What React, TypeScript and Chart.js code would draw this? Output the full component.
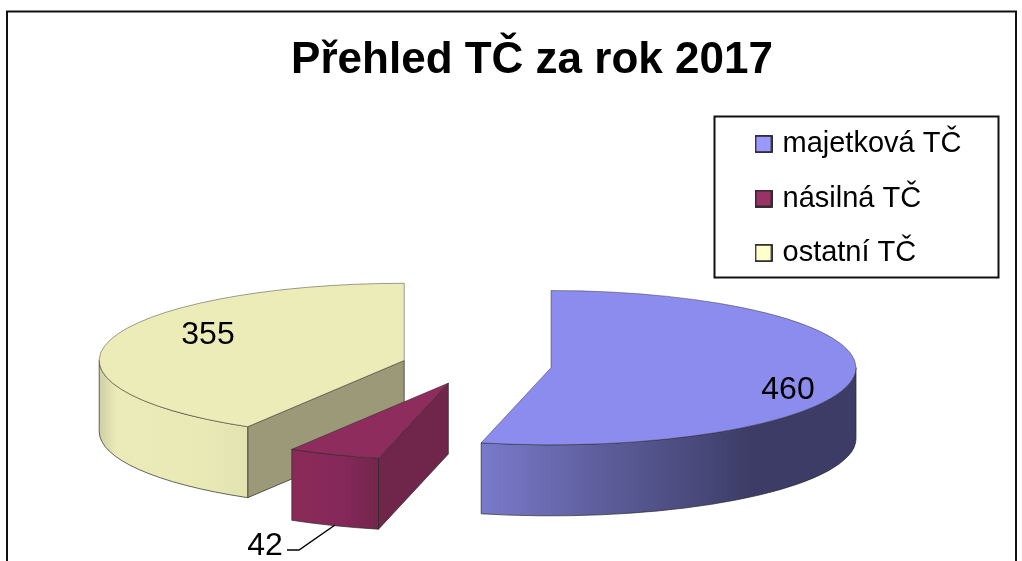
import React, { useEffect, useRef } from "react";
import { Chart, registerables } from "chart.js";

Chart.register(...registerables);

const categories = ["majetková TČ", "násilná TČ", "ostatní TČ"];
const values = [460, 42, 355];
const titleText = "Přehled TČ za rok 2017";

const topColors = ["#8C8CEE", "#8E2C5E", "#ECECB8"];
const legendColors = ["#9999FF", "#993366", "#FFFFCC"];
const sideColors = ["#3C3C66", "#70264A", "#9B9978"];
const wallStops: [number, string][][] = [
  [[0, "#7A7ACC"], [0.3, "#5F5F9F"], [0.6, "#474778"], [0.72, "#3C3C66"], [1, "#3C3C66"]],
  [[0, "#8B2A58"], [0.6, "#84285A"], [1, "#72264A"]],
  [[0, "#CFCFA6"], [0.12, "#EBEBB9"], [0.7, "#E9E9B6"], [1, "#E3E3B2"]],
];

// pie projection
const PIE_X = 476.5;
const PIE_Y = 365.5;
const PIE_RADIUS = 305;
const PIE_OFFSET = 75;
const TILT = 0.253;
const DEPTH = 71;

const FONT = "'Liberation Sans', Arial, sans-serif";
const labelAt: [number, number][] = [[788, 390], [265, 546], [208, 335.5]];
const leader: [number, number][] = [[287, 550], [299, 550], [335, 525]];

function swatch(color: string) {
  const c = document.createElement("canvas");
  c.width = 18;
  c.height = 18;
  const g = c.getContext("2d")!;
  g.fillStyle = color;
  g.fillRect(1, 1, 16, 16);
  g.strokeStyle = "#1a1a1a";
  g.lineWidth = 1.6;
  g.strokeRect(0.9, 0.9, 16.2, 16.2);
  return c;
}

const sceneryPlugin = {
  id: "scenery",
  afterLayout(chart: any) {
    const t = chart.titleBlock;
    t.left = 42;
    t.right = 1022;
    t.top = 34;
    t.bottom = 89;
    const l = chart.legend;
    l.left = 733.5;
    l.right = 1000;
    l.top = 104;
    l.bottom = 420;
  },
  // explode each slice along its own middle angle
  afterDatasetsUpdate(chart: any) {
    const arcs = chart.getDatasetMeta(0).data;
    chart.$pieBase = { x: arcs[0].x, y: arcs[0].y };
    arcs.forEach((arc: any) => {
      const mid = (arc.startAngle + arc.endAngle) / 2;
      arc.x += Math.cos(mid) * PIE_OFFSET;
      arc.y += Math.sin(mid) * PIE_OFFSET;
    });
  },
  beforeDraw(chart: any) {
    const ctx = chart.ctx;
    ctx.save();
    ctx.fillStyle = "#fff";
    ctx.fillRect(0, 0, 1022, 561);
    ctx.strokeStyle = "#111";
    ctx.lineWidth = 2;
    ctx.beginPath();
    ctx.moveTo(7, 570);
    ctx.lineTo(7, 11.5);
    ctx.lineTo(1016, 11.5);
    ctx.lineTo(1016, 570);
    ctx.stroke();
    ctx.lineWidth = 2;
    ctx.strokeRect(714.5, 116.5, 284, 161);
    ctx.restore();
  },
  beforeDatasetsDraw(chart: any) {
    const ctx = chart.ctx;
    const arcs = chart.getDatasetMeta(0).data;
    [2, 0, 1].forEach((i) => {
      const p = arcs[i];
      const a = p.startAngle;
      const b = p.endAngle;
      const mid = (a + b) / 2;
      const cx = PIE_X + Math.cos(mid) * PIE_OFFSET;
      const cy = PIE_Y + Math.sin(mid) * PIE_OFFSET * TILT;
      const R = p.outerRadius;
      const ry = R * TILT;
      ctx.save();
      ctx.strokeStyle = "rgba(40,40,40,0.7)";
      ctx.lineWidth = 1;
      ctx.lineJoin = "round";
      // radial wall facing the viewer
      if (Math.sin(a - Math.PI / 2) > 0) {
        const ex = cx + Math.cos(a) * R;
        const ey = cy + Math.sin(a) * ry;
        ctx.beginPath();
        ctx.moveTo(cx, cy);
        ctx.lineTo(ex, ey);
        ctx.lineTo(ex, ey + DEPTH);
        ctx.lineTo(cx, cy + DEPTH);
        ctx.closePath();
        ctx.fillStyle = sideColors[i];
        ctx.fill();
        ctx.stroke();
      }
      // outer wall, front half only
      const from = Math.max(a, 0);
      const to = Math.min(b, Math.PI);
      if (to > from) {
        const x0 = cx + Math.cos(to) * R;
        const x1 = cx + Math.cos(from) * R;
        const grad = ctx.createLinearGradient(x0, 0, x1, 0);
        wallStops[i].forEach(([o, col]) => grad.addColorStop(o, col));
        ctx.beginPath();
        ctx.ellipse(cx, cy, R, ry, 0, from, to);
        ctx.lineTo(cx + Math.cos(to) * R, cy + Math.sin(to) * ry + DEPTH);
        ctx.ellipse(cx, cy + DEPTH, R, ry, 0, to, from, true);
        ctx.closePath();
        ctx.fillStyle = grad;
        ctx.fill();
        ctx.stroke();
      }
      ctx.restore();
    });
  },
  beforeDatasetDraw(chart: any) {
    const ctx = chart.ctx;
    ctx.save();
    ctx.translate(PIE_X, PIE_Y);
    ctx.scale(1, TILT);
    ctx.translate(-chart.$pieBase.x, -chart.$pieBase.y);
  },
  afterDatasetDraw(chart: any) {
    chart.ctx.restore();
  },
  afterDraw(chart: any) {
    const ctx = chart.ctx;
    ctx.save();
    ctx.fillStyle = "#000";
    ctx.font = `32px ${FONT}`;
    ctx.textAlign = "center";
    ctx.textBaseline = "middle";
    values.forEach((v, i) => ctx.fillText(String(v), labelAt[i][0], labelAt[i][1]));
    ctx.strokeStyle = "#000";
    ctx.lineWidth = 1.5;
    ctx.beginPath();
    leader.forEach(([x, y], i) => (i ? ctx.lineTo(x, y) : ctx.moveTo(x, y)));
    ctx.stroke();
    ctx.restore();
  },
};

export default function App() {
  const ref = useRef<HTMLCanvasElement>(null);
  useEffect(() => {
    const chart = new Chart(ref.current!, {
      type: "pie",
      data: {
        labels: categories,
        datasets: [
          {
            data: values,
            backgroundColor: topColors,
            borderColor: "rgba(40,40,40,0.7)",
            borderWidth: 1,
            radius: PIE_RADIUS,
            clip: false,
          } as any,
        ],
      },
      options: {
        responsive: false,
        animation: false,
        plugins: {
          title: {
            display: true,
            text: titleText,
            color: "#000",
            font: { family: FONT, size: 44, weight: "bold", lineHeight: 1.2 },
            padding: 0,
          },
          legend: {
            display: true,
            position: "right",
            align: "start",
            labels: {
              color: "#000",
              padding: 25.5,
              boxHeight: 18,
              usePointStyle: true,
              pointStyleWidth: 9,
              font: { family: FONT, size: 29, lineHeight: 1 },
              generateLabels: () =>
                categories.map((text, i) => ({
                  text,
                  pointStyle: swatch(legendColors[i]),
                  fillStyle: legendColors[i],
                  strokeStyle: "#000",
                  lineWidth: 0,
                  hidden: false,
                  index: i,
                })),
            },
          },
          tooltip: { enabled: false },
        },
      } as any,
      plugins: [sceneryPlugin as any],
    });
    return () => chart.destroy();
  }, []);
  return (
    <canvas
      ref={ref}
      width={1022}
      height={561}
      style={{ position: "fixed", left: 0, top: 0, display: "block" }}
    />
  );
}
